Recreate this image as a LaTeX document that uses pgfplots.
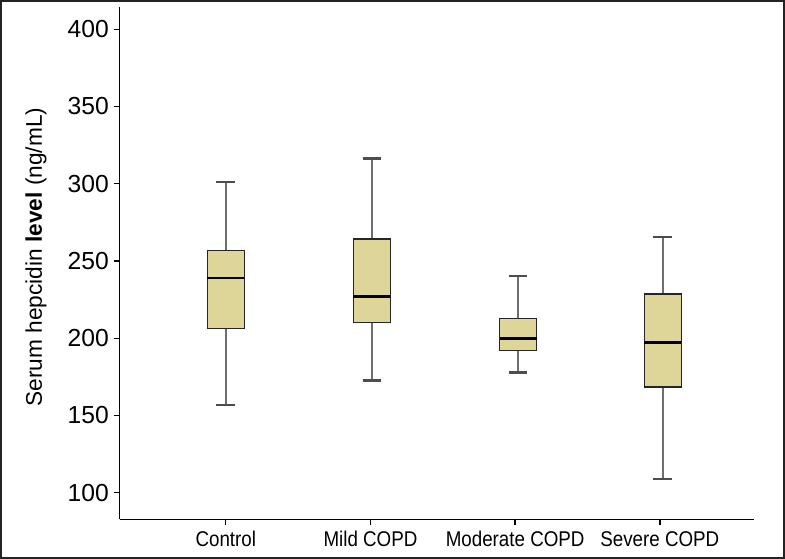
\documentclass[border=0pt]{standalone}
\usepackage{fontspec}
\setmainfont{Liberation Sans}
\newfontfamily\narrowfont[FakeStretch=0.88]{Liberation Sans}
\usepackage{pgfplots}
\pgfplotsset{compat=1.18}
\definecolor{boxfill}{RGB}{222,214,152}
\definecolor{whisk}{RGB}{110,110,110}
\definecolor{framec}{RGB}{35,35,35}
\begin{document}
\begin{tikzpicture}
\useasboundingbox (0,0) rectangle (588.75pt,419.25pt);
\draw[framec, line width=1.5pt] (0.75pt,0.75pt) rectangle (588pt,418.5pt);
\begin{axis}[
  at={(89.7pt,29.8pt)}, anchor=south west,
  scale only axis, width=475.5pt, height=384pt,
  xmin=-0.734, xmax=3.648, ymin=82.8, ymax=414.2,
  axis x line*=bottom, axis y line*=left,
  axis line style={black, line width=1pt},
  xtick={0,1,2,3},
  xticklabels={Control, Mild COPD, Moderate COPD, Severe COPD},
  ytick={100,150,...,400},
  tick align=outside, major tick length=4.5pt,
  tick style={black, line width=1pt},
  x tick label style={font=\narrowfont\fontsize{16}{18}\selectfont, yshift=-1pt},
  y tick label style={font=\fontsize{18.5}{20}\selectfont},
  /pgf/number format/assume math mode=true,
  ylabel={Serum hepcidin \textbf{level} (ng/mL)},
  ylabel style={font=\fontsize{17}{19}\selectfont, at={(axis description cs:-0.132,0.512)}, anchor=center},
  whisker/.style={whisk, line width=1.5pt},
  cap/.style={whisk!70!black, line width=1.8pt},
  box/.style={draw=black!85, fill=boxfill, line width=1pt},
  med/.style={black, line width=2pt},
]
% Control
\addplot[whisker] coordinates {(0,156.9) (0,301.2)};
\addplot[cap] coordinates {(-0.065,301.2) (0.065,301.2)};
\addplot[cap] coordinates {(-0.065,156.9) (0.065,156.9)};
\addplot[box] coordinates {(-0.1275,206.1) (0.1275,206.1) (0.1275,256.6) (-0.1275,256.6)} --cycle;
\addplot[med] coordinates {(-0.1275,238.9) (0.1275,238.9)};
% Mild COPD
\addplot[whisker] coordinates {(1.01,172.7) (1.01,316.3)};
\addplot[cap] coordinates {(0.945,316.3) (1.075,316.3)};
\addplot[cap] coordinates {(0.945,172.7) (1.075,172.7)};
\addplot[box] coordinates {(0.8825,210.0) (1.1375,210.0) (1.1375,264.3) (0.8825,264.3)} --cycle;
\addplot[med] coordinates {(0.8825,227.1) (1.1375,227.1)};
% Moderate COPD
\addplot[whisker] coordinates {(2.02,177.9) (2.02,240.4)};
\addplot[cap] coordinates {(1.955,240.4) (2.085,240.4)};
\addplot[cap] coordinates {(1.955,177.9) (2.085,177.9)};
\addplot[box] coordinates {(1.8925,191.9) (2.1475,191.9) (2.1475,212.6) (1.8925,212.6)} --cycle;
\addplot[med] coordinates {(1.8925,199.9) (2.1475,199.9)};
% Severe COPD
\addplot[whisker] coordinates {(3.02,108.7) (3.02,265.6)};
\addplot[cap] coordinates {(2.955,265.6) (3.085,265.6)};
\addplot[cap] coordinates {(2.955,108.7) (3.085,108.7)};
\addplot[box] coordinates {(2.8925,168.4) (3.1475,168.4) (3.1475,228.6) (2.8925,228.6)} --cycle;
\addplot[med] coordinates {(2.8925,197.3) (3.1475,197.3)};
\end{axis}
\end{tikzpicture}
\end{document}
